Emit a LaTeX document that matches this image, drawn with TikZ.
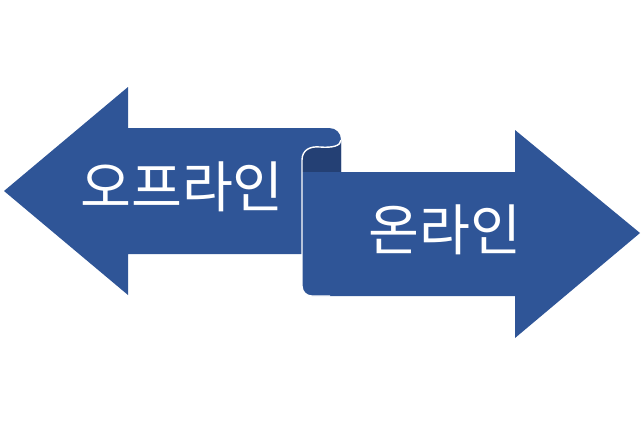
\documentclass[tikz,border=0pt]{standalone}
\usepackage{fontspec}
\newfontfamily\krfont{Noto Sans CJK KR}
\definecolor{arrowblue}{RGB}{47,85,151}
\definecolor{curlblue}{RGB}{36,64,116}

\begin{document}
\begin{tikzpicture}[x=0.02cm, y=-0.02cm]
  \useasboundingbox (0,0) rectangle (644,426);

  % 왼쪽 화살표 (오프라인)
  \coordinate (Ltip) at (4,191);
  \fill[arrowblue] (Ltip) -- (128,87) -- (128,128) -- (329,128)
    .. controls (336,128) and (341,133) .. (341,140)
    -- (341,172) -- (302,172) -- (302,254) -- (128,254) -- (128,295) -- cycle;

  % 말린 부분 안쪽
  \coordinate (C1) at (302,160);
  \coordinate (C2) at (341,140);
  \fill[curlblue] (C1) .. controls (302,150) and (310,146) .. (320,147)
    .. controls (332,148) and (341,146) .. (C2) -- (341,172) -- (302,172) -- cycle;

  % 오른쪽 화살표 (온라인)
  \coordinate (Rtip) at (640,233);
  \fill[arrowblue] (302,172) [rounded corners=5.5pt] -- (302,296) [sharp corners]
    -- (515,296) -- (515,338) -- (Rtip) -- (515,130) -- (515,172) -- cycle;

  % 흰 테두리
  \draw[white, line width=0.8pt] (C2) .. controls (341,146) and (332,148) .. (320,147)
    .. controls (310,146) and (302,150) .. (C1)
    [rounded corners=5.5pt] -- (302,296) -- (330,296);

  \node[white, font=\krfont\fontsize{31.5}{38}\selectfont] (offline) at (182,187) {오프라인};
  \node[white, font=\krfont\fontsize{31.5}{38}\selectfont] (online) at (445,230) {온라인};
\end{tikzpicture}
\end{document}
